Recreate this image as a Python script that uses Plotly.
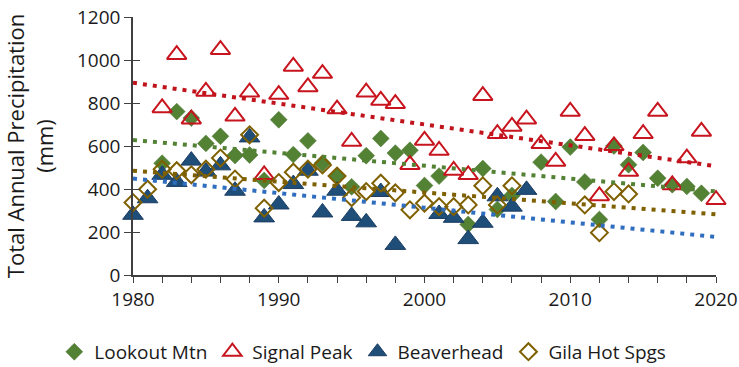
import numpy as np
import plotly.graph_objects as go

years = list(range(1980, 2021))

lookout_mtn = [None, None, 520, 760, 730, 612, 645, 556, 558, 440,
               722, 560, 624, 520, 461, 410, 555, 635, 567, 580,
               416, 460, None, 235, 495, 305, 370, None, 525, 342,
               595, 433, 258, 600, 513, 570, 450, 420, 412, 380, None]

signal_peak = [None, None, 777, 1025, 725, 854, 1048, 738, 850, 466,
               839, 970, 875, 937, 772, 621, 850, 812, 797, 513,
               626, 579, 486, 466, 834, 657, 691, 725, 610, 528,
               761, 648, 368, 601, 481, 657, 761, 419, 544, 668, 350]

beaverhead = [280, 357, 466, 433, 532, 481, 510, 392, 640, 268,
              328, 423, 485, 291, 392, 275, 245, 386, 140, None,
              None, 284, 266, 167, 243, 366, 318, 396, None, None,
              None, None, None, None, None, None, None, None, None, None, None]

gila_hot_spgs = [337, 399, 492, 485, 466, 492, 544, 446, 652, 311,
                 430, 478, 492, 512, 460, 360, 388, 427, 382, 303,
                 334, 318, 318, 326, 415, 326, 415, None, None, None,
                 None, 326, 197, 388, 377, None, None, None, None, None, None]

x_tick_labels = ["1980", "1990", "2000", "2010", "2020"]
y_tick_values = [0, 200, 400, 600, 800, 1000, 1200]

FONT = "Open Sans"
TXT = "#1a1a1a"
series = [
    ("Lookout Mtn", lookout_mtn,
     dict(symbol="diamond", size=13, color="#548235", line=dict(width=0.5, color="#4a7430")),
     "#548235"),
    ("Signal Peak", signal_peak,
     dict(symbol="triangle-up-open", size=17, color="#C8141E", line=dict(width=2, color="#C8141E")),
     "#C0131C"),
    ("Beaverhead", beaverhead,
     dict(symbol="triangle-up", size=18, color="#1F4E79", line=dict(width=1, color="#1B3D63")),
     "#2E6DBF"),
    ("Gila Hot Spgs", gila_hot_spgs,
     dict(symbol="diamond-open", size=13, color="#7F6000", line=dict(width=2, color="#7F6000")),
     "#7F6000"),
]

fig = go.Figure()
for name, vals, marker, _ in series:
    fig.add_trace(go.Scatter(x=years, y=vals, mode="markers", name=name,
                             marker=marker, cliponaxis=False))

# linear trend lines computed from the data
for name, vals, _, tcolor in series:
    xs = np.array([y for y, v in zip(years, vals) if v is not None], dtype=float)
    ys = np.array([v for v in vals if v is not None], dtype=float)
    m, b = np.polyfit(xs, ys, 1)
    tx = [1980, 2020]
    fig.add_trace(go.Scatter(x=tx, y=[m * t + b for t in tx], mode="lines",
                             line=dict(color=tcolor, width=4, dash="4px,6px"),
                             showlegend=False, hoverinfo="skip", yaxis="y2"))

axis_col = "#404040"
fig.update_layout(
    width=739, height=367,
    margin=dict(l=133, r=23, t=17, b=92, autoexpand=False),
    paper_bgcolor="white", plot_bgcolor="white",
    font=dict(family=FONT, size=19, color=TXT),
    xaxis=dict(range=[1980, 2020], tickvals=[int(t) for t in x_tick_labels], ticktext=x_tick_labels,
               automargin=False,
               showgrid=False, zeroline=False, showline=True, linecolor=axis_col, linewidth=1.5,
               ticks="outside", ticklen=6, tickcolor=axis_col,
               minor=dict(dtick=2, tick0=1980, ticks="outside", ticklen=6, tickcolor=axis_col),
               tickfont=dict(size=19, family=FONT, color=TXT)),
    yaxis=dict(range=[0, 1200], tickvals=y_tick_values, showgrid=False, zeroline=False,
               automargin=False,
               showline=True, linecolor=axis_col, linewidth=1.5,
               ticks="outside", ticklen=7, tickcolor=axis_col,
               tickfont=dict(size=19, family=FONT, color=TXT),
               title=dict(text="Total Annual Precipitation<br>(mm)", standoff=20,
                          font=dict(size=22, family=FONT, color=TXT))),
    yaxis2=dict(range=[0, 1200], overlaying="y", side="left", tickvals=y_tick_values,
                automargin=False,
                showticklabels=False, ticks="inside", ticklen=7, tickcolor=axis_col,
                showgrid=False, zeroline=False, showline=False),
    legend=dict(orientation="h", x=-0.135, y=-0.298,
                xanchor="left", yanchor="middle", font=dict(size=19, family=FONT, color=TXT),
                itemwidth=30, tracegroupgap=0, bgcolor="rgba(0,0,0,0)"),
    showlegend=True,
)

fig.write_html("out.html")
